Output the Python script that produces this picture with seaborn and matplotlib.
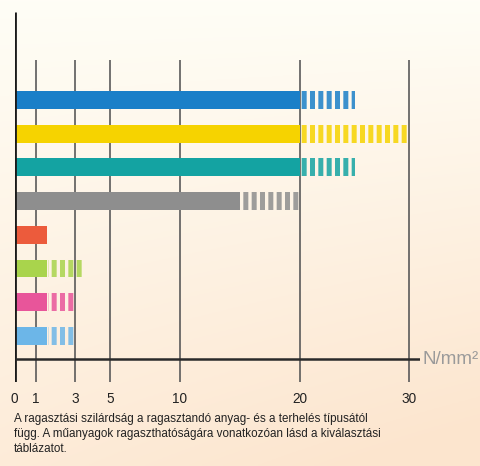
import numpy as np
import pandas as pd
import matplotlib
matplotlib.use("Agg")
import matplotlib.pyplot as plt
import seaborn as sns

# ---- data ----
categories = ["A", "B", "C", "D", "E", "F", "G", "H"]
solid_vals = [20, 20, 20, 15, 1.6, 1.6, 1.6, 1.6]     # guaranteed strength
max_vals = [25, 30, 25, 20, 1.6, 3.5, 3.0, 3.0]        # upper range (striped)
bar_colors = ["#1a7fc8", "#f6d300", "#14a3a2", "#8e8e8e",
              "#ec5b3c", "#a9d44c", "#e8559a", "#6cb6e8"]
tick_values = [0, 1, 3, 5, 10, 20, 30]
tick_labels = ["0", "1", "3", "5", "10", "20", "30"]
unit_label = "N/mm²"
caption = ("A ragasztási szilárdság a ragasztandó anyag- és a terhelés típusától\n"
           "függ. A műanyagok ragaszthatóságára vonatkozóan lásd a kiválasztási\n"
           "táblázatot.")

# ---- non-linear axis scale (piecewise linear between ticks) ----
scale_pos = np.array([0, 21, 60.5, 95.5, 165.5, 285.5, 394.5])
tv = np.array(tick_values, dtype=float)
slope_end = (scale_pos[-1] - scale_pos[-2]) / (tv[-1] - tv[-2])

def fwd(x):
    x = np.asarray(x, dtype=float)
    y = np.interp(x, tv, scale_pos)
    return np.where(x > tv[-1], scale_pos[-1] + (x - tv[-1]) * slope_end,
                    np.where(x < 0, x * scale_pos[1], y))

def inv(y):
    y = np.asarray(y, dtype=float)
    x = np.interp(y, scale_pos, tv)
    return np.where(y > scale_pos[-1], tv[-1] + (y - scale_pos[-1]) / slope_end,
                    np.where(y < 0, y / scale_pos[1], x))

sns.set_theme(style="white")
plt.rcParams["font.family"] = ["Liberation Sans Narrow", "Liberation Sans", "DejaVu Sans"]

W, H = 480, 466
fig = plt.figure(figsize=(W / 100, H / 100), dpi=100)

# background gradient
bg = fig.add_axes([0, 0, 1, 1], zorder=-10)
yy, xx = np.mgrid[0:1:200j, 0:1:200j]
t = np.clip(0.75 * yy + 0.35 * xx * yy, 0, 1)
top = np.array([1.0, 0.995, 0.965])
bot = np.array([0.99, 0.90, 0.81])
img = top[None, None, :] * (1 - t[..., None]) + bot[None, None, :] * t[..., None]
bg.imshow(img, aspect="auto", extent=[0, 1, 0, 1], origin="upper")
bg.set_axis_off()

# main axes
x_right_val = 31.0
left = 14.5 / W
right_px = 14.5 + float(fwd(x_right_val))
top_px, bottom_px = 12, 382
ax = fig.add_axes([left, 1 - bottom_px / H, (right_px - 14.5) / W, (bottom_px - top_px) / H])
ax.patch.set_alpha(0)

df = pd.DataFrame({"cat": categories, "solid": solid_vals, "max": max_vals})

sns.barplot(data=df, y="cat", x="solid", hue="cat", palette=bar_colors,
            orient="h", width=0.53, legend=False, ax=ax, saturation=1,
            linewidth=0, zorder=3)

plt.rcParams["hatch.linewidth"] = 3.6
for i, (s, m, c) in enumerate(zip(solid_vals, max_vals, bar_colors)):
    if m > s:
        ax.barh(i, m - s, left=s + 0.05, height=0.53, facecolor="none",
                edgecolor=c, hatch="||", linewidth=0, zorder=3, alpha=0.85)

ax.set_xscale("function", functions=(fwd, inv))
ax.set_xlim(0, x_right_val)
# y layout: spacing 33.7px per category, centre of first bar at 100px
sp = 33.7
y_top = (top_px - 100) / sp
y_bot = (bottom_px - 100) / sp
y_axis = (359 - 100) / sp
y_grid_top = (60 - 100) / sp
ax.set_ylim(y_bot, y_top)

for s in ax.spines.values():
    s.set_visible(False)
ax.set_xticks([])
ax.set_yticks([])
ax.set_xlabel("")
ax.set_ylabel("")

# grid/tick lines
ax.vlines(tick_values[1:], y_grid_top, y_bot, colors="#5a5a5a", linewidth=1.2, zorder=1)
ax.vlines([0], y_top, y_bot, colors="#1a1a1a", linewidth=2.0, zorder=4)
ax.hlines([y_axis], 0, x_right_val, colors="#2a2a2a", linewidth=1.8, zorder=4)

# tick labels
for v, lab in zip(tick_values, tick_labels):
    ax.annotate(lab, xy=(v, y_bot), xycoords="data", xytext=(0, -7),
                textcoords="offset points", ha="center", va="top",
                fontsize=9.8, color="#222222", annotation_clip=False)

ax.annotate(unit_label, xy=(x_right_val, y_axis), xytext=(2, 0),
            textcoords="offset points", ha="left", va="center",
            fontsize=13.5, color="#9a9a9a", annotation_clip=False)

fig.text(14 / W, 1 - 413 / H, caption, ha="left", va="top", fontsize=8.4,
         color="#222222", linespacing=1.32)

fig.savefig("out.png", dpi=100)
